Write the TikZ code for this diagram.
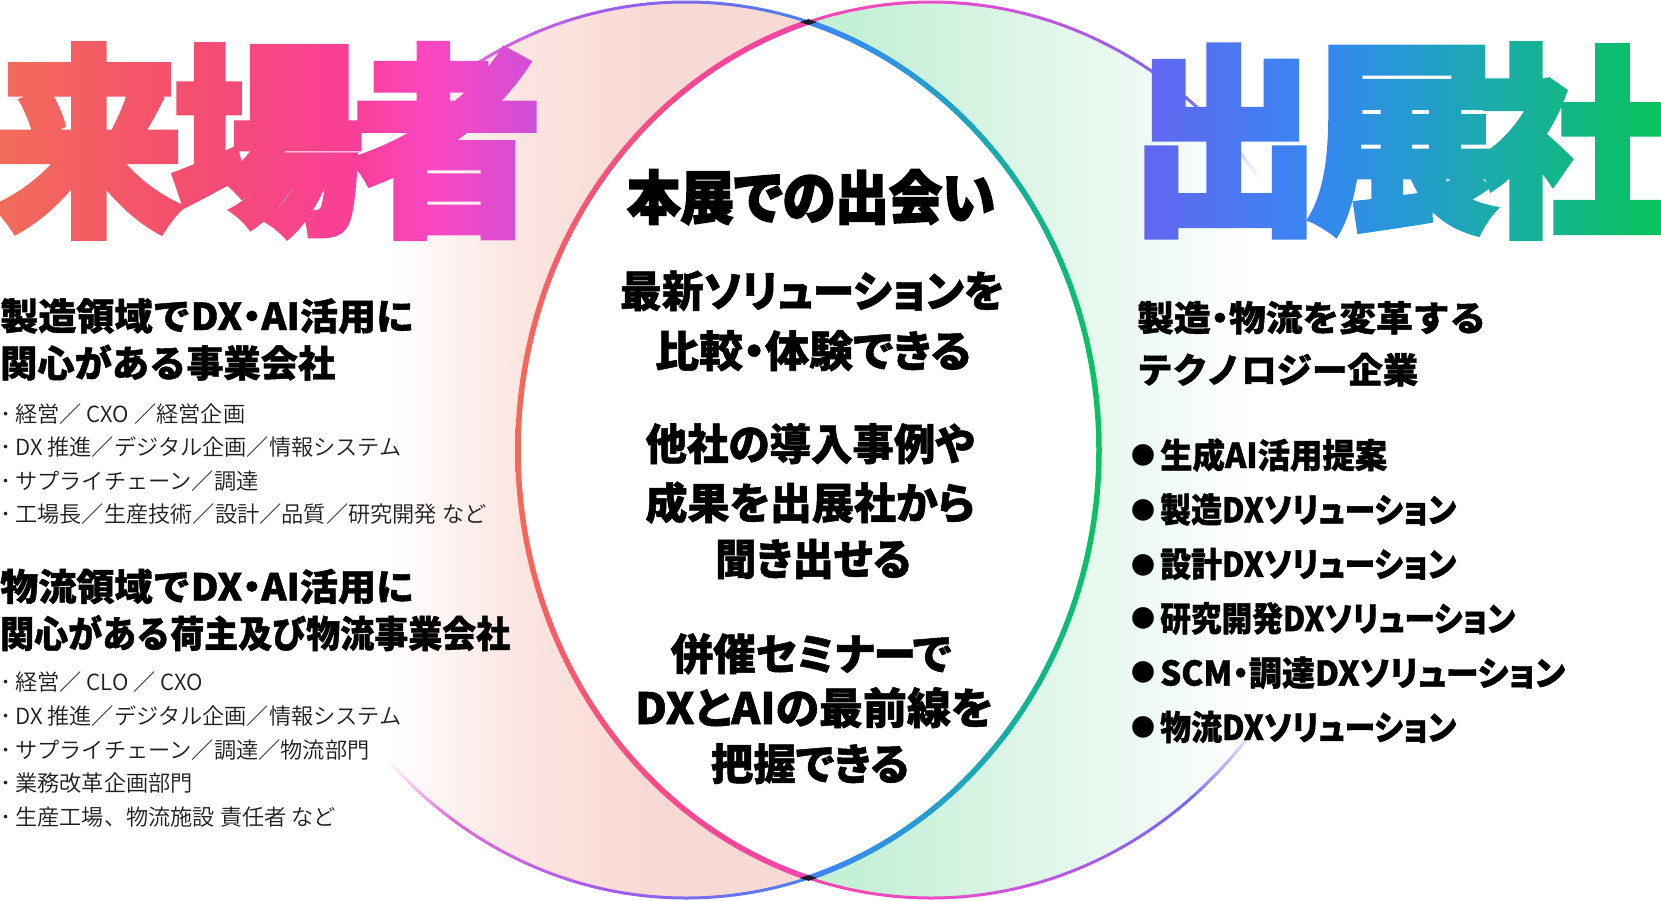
\documentclass[tikz,border=0pt]{standalone}
\usepackage{fontspec}
\usepackage{graphicx}
\usetikzlibrary{fadings}
\newfontfamily\jp{Noto Sans CJK JP}[BoldFeatures={FakeBold=1.2}]
\newfontfamily\jpp{Noto Sans CJK JP}[RawFeature=+palt,BoldFeatures={FakeBold=1.2}]
\newfontfamily\jph{Noto Sans CJK JP}[RawFeature=+palt,BoldFeatures={FakeBold=3}]
\IfFontExistsTF{Noto Sans CJK JP DemiLight}{\newfontfamily\jpl{Noto Sans CJK JP DemiLight}}{\newfontfamily\jpl{Noto Sans CJK JP}}
\newcommand\fitw[2]{\resizebox{#1}{\height}{#2}}
\newcommand\pdot{{\jpp\bfseries ・}}
\newcommand\bdot{･\kern4pt}

\definecolor{lpkA}{HTML}{FCE5E1}
\definecolor{lpkB}{HTML}{F9D9D3}
\definecolor{rgnA}{HTML}{C2EFD4}
\definecolor{rgnB}{HTML}{C4F0D6}
\definecolor{rgnC}{HTML}{DAF5E5}
\definecolor{rgnD}{HTML}{EFFAF4}
\definecolor{lsA}{HTML}{E46AD8}
\definecolor{lsB}{HTML}{A65BEA}
\definecolor{lsC}{HTML}{5A78F2}
\definecolor{lsD}{HTML}{3C88F2}
\definecolor{lsE}{HTML}{20A2C6}
\definecolor{lsF}{HTML}{13B684}
\definecolor{lsG}{HTML}{0DC15E}
\definecolor{rsA}{HTML}{F36A58}
\definecolor{rsB}{HTML}{F4537A}
\definecolor{rsC}{HTML}{F54693}
\definecolor{rsD}{HTML}{F346AC}
\definecolor{rsE}{HTML}{EE4CC8}
\definecolor{rsF}{HTML}{B957E3}
\definecolor{rsG}{HTML}{7868F0}
\definecolor{raA}{HTML}{F26C5A}
\definecolor{raB}{HTML}{F44F6E}
\definecolor{raC}{HTML}{F93F98}
\definecolor{raD}{HTML}{FD47C0}
\definecolor{raE}{HTML}{CE4FD9}
\definecolor{shA}{HTML}{6465F1}
\definecolor{shB}{HTML}{3787F2}
\definecolor{shC}{HTML}{2798D6}
\definecolor{shD}{HTML}{1CAAAE}
\definecolor{shE}{HTML}{07C45A}
\definecolor{darkx}{HTML}{1A1A2A}
\definecolor{txt}{HTML}{000000}
\definecolor{txtl}{HTML}{1E1E1E}

\pgfdeclarehorizontalshading{lfill}{100bp}{color(0bp)=(white); color(32.08bp)=(white); color(39.95bp)=(lpkA); color(47.82bp)=(lpkB); color(100bp)=(lpkB)}
\pgfdeclarehorizontalshading{rfill}{100bp}{color(0bp)=(rgnA); color(25bp)=(rgnA); color(45.70bp)=(rgnB); color(54.18bp)=(rgnC); color(63.26bp)=(rgnD); color(70.04bp)=(white); color(100bp)=(white)}
\pgfdeclarehorizontalshading{lstroke}{100bp}{color(0bp)=(white); color(31.90bp)=(white); color(35.81bp)=(lsA); color(44.83bp)=(lsB); color(54.45bp)=(lsC); color(58.66bp)=(lsD); color(65.87bp)=(lsE); color(71.89bp)=(lsF); color(75bp)=(lsG); color(100bp)=(lsG)}
\pgfdeclarehorizontalshading{rstroke}{100bp}{color(0bp)=(rsA); color(25bp)=(rsA); color(30.10bp)=(rsB); color(36.11bp)=(rsC); color(42.60bp)=(rsD); color(50bp)=(rsE); color(57.76bp)=(rsF); color(65.57bp)=(rsG); color(69.90bp)=(white); color(100bp)=(white)}
\pgfdeclarehorizontalshading{raish}{100bp}{color(0bp)=(raA); color(26.12bp)=(raA); color(42.19bp)=(raB); color(57.81bp)=(raC); color(64.51bp)=(raD); color(73.88bp)=(raE); color(100bp)=(raE)}
\pgfdeclarehorizontalshading{shutsu}{100bp}{color(0bp)=(shA); color(26.88bp)=(shA); color(42.41bp)=(shB); color(49.91bp)=(shC); color(57.32bp)=(shD); color(73.13bp)=(shE); color(100bp)=(shE)}

\tikzset{
  bigch/.style={text=transparent!0, font=\jph\bfseries\fontsize{204}{204}\selectfont, inner sep=0pt, xscale=0.94},
  lhead/.style={anchor=base west, inner sep=0pt, text=txt, font=\jp\bfseries\fontsize{37}{37}\selectfont},
  lbul/.style={anchor=base west, inner sep=0pt, text=txtl, font=\jpl\fontsize{22.2}{22}\selectfont},
  ctitle/.style={anchor=base, inner sep=0pt, text=txt, font=\jph\bfseries\fontsize{58}{58}\selectfont},
  cbody/.style={anchor=base, inner sep=0pt, text=txt, font=\jpp\bfseries\fontsize{43}{43}\selectfont},
  rhead/.style={anchor=base west, inner sep=0pt, text=txt, font=\jp\bfseries\fontsize{35}{35}\selectfont},
  ritem/.style={anchor=base west, inner sep=0pt, text=txt, font=\jpp\bfseries\fontsize{34}{34}\selectfont},
  rdot/.style={anchor=center, inner sep=0pt, text=txt, font=\jp\fontsize{24}{24}\selectfont},
}

\begin{tikzfadingfrompicture}[name=fraijo]
  \path (-280pt,-110pt) rectangle (280pt,110pt);
  \node[bigch] (fa) at (-179pt,0pt) {来};
  \node[bigch] (fb) at (0pt,0pt) {場};
  \node[bigch] (fc) at (179.5pt,0pt) {者};
\end{tikzfadingfrompicture}
\begin{tikzfadingfrompicture}[name=fshutsu]
  \path (-280pt,-110pt) rectangle (280pt,110pt);
  \node[bigch] (fd) at (-176pt,0pt) {出};
  \node[bigch] (fe) at (2.5pt,0pt) {展};
  \node[bigch] (ff) at (172pt,0pt) {社};
\end{tikzfadingfrompicture}

\begin{document}
\begin{tikzpicture}[x=1pt,y=-1pt]
\useasboundingbox (0,0) rectangle (1661,900);
\clip (0,0) rectangle (1661,900);
\fill[white] (0,0) rectangle (1661,900);

% fills
\shade[shading=lfill] (686,450) ellipse [x radius=413pt, y radius=448pt];
\shade[shading=rfill] (931,450) ellipse [x radius=413pt, y radius=448pt];
\begin{scope}
  \clip (686,450) ellipse [x radius=413pt, y radius=448pt];
  \fill[white] (931,450) ellipse [x radius=413pt, y radius=448pt];
\end{scope}

% left ellipse outline
\shade[shading=lstroke, even odd rule] (686,450) ellipse [x radius=414.5pt, y radius=449.5pt] (686,450) ellipse [x radius=411.5pt, y radius=446.5pt];
\begin{scope}
  \clip (931,450) ellipse [x radius=413pt, y radius=448pt];
  \shade[shading=lstroke, even odd rule] (686,450) ellipse [x radius=415.75pt, y radius=450.75pt] (686,450) ellipse [x radius=410.25pt, y radius=445.25pt];
\end{scope}
% right ellipse outline
\shade[shading=rstroke, even odd rule] (931,450) ellipse [x radius=414.5pt, y radius=449.5pt] (931,450) ellipse [x radius=411.5pt, y radius=446.5pt];
\begin{scope}
  \clip (686,450) ellipse [x radius=413pt, y radius=448pt];
  \shade[shading=rstroke, even odd rule] (931,450) ellipse [x radius=415.75pt, y radius=450.75pt] (931,450) ellipse [x radius=410.25pt, y radius=445.25pt];
\end{scope}
% crossing points
\begin{scope}[even odd rule]
  \clip (686,450) ellipse [x radius=415.75pt, y radius=450.75pt] (686,450) ellipse [x radius=410.25pt, y radius=445.25pt];
  \fill[darkx] (931,450) ellipse [x radius=415.75pt, y radius=450.75pt] (931,450) ellipse [x radius=410.25pt, y radius=445.25pt];
\end{scope}

% big gradient headings
\begin{scope}[transform canvas={shift={(267.5pt,-141pt)}}]
  \shade[shading=raish, path fading=fraijo, fit fading=false] (-280,-110) rectangle (280,110);
\end{scope}
\begin{scope}[transform canvas={shift={(1401pt,-141pt)}}]
  \shade[shading=shutsu, path fading=fshutsu, fit fading=false] (-280,-110) rectangle (280,110);
\end{scope}

% left column
\node[lhead] (lh1a) at (0,330) {\fitw{414pt}{製造領域でDX\pdot AI活用に}};
\node[lhead] (lh1b) at (0,377) {\fitw{335pt}{関心がある事業会社}};
\node[lbul] (lb1) at (0,422) {\bdot 経営／ CXO ／経営企画};
\node[lbul] (lb2) at (0,455.5) {\bdot DX 推進／デジタル企画／情報システム};
\node[lbul] (lb3) at (0,489) {\bdot サプライチェーン／調達};
\node[lbul] (lb4) at (0,522) {\bdot 工場長／生産技術／設計／品質／研究開発 など};
\node[lhead] (lh2a) at (0,600.5) {\fitw{414pt}{物流領域でDX\pdot AI活用に}};
\node[lhead] (lh2b) at (0,647.5) {\fitw{510pt}{関心がある荷主及び物流事業会社}};
\node[lbul] (lb5) at (0,690) {\bdot 経営／ CLO ／ CXO};
\node[lbul] (lb6) at (0,724) {\bdot DX 推進／デジタル企画／情報システム};
\node[lbul] (lb7) at (0,758) {\bdot サプライチェーン／調達／物流部門};
\node[lbul] (lb8) at (0,791) {\bdot 業務改革企画部門};
\node[lbul] (lb9) at (0,825) {\bdot 生産工場、物流施設 責任者 など};

% center column
\node[ctitle] (ct) at (811,219) {\fitw{368pt}{本展での出会い}};
\node[cbody] (c1) at (812,307) {\fitw{384pt}{最新ソリューションを}};
\node[cbody] (c2) at (813,367) {\fitw{316pt}{比較・体験できる}};
\node[cbody] (c3) at (810,460) {\fitw{329pt}{他社の導入事例や}};
\node[cbody] (c4) at (810,519) {\fitw{329pt}{成果を出展社から}};
\node[cbody] (c5) at (813,575) {\fitw{196pt}{聞き出せる}};
\node[cbody] (c6) at (811,670) {\fitw{281pt}{併催セミナーで}};
\node[cbody] (c7) at (814,724) {\fitw{358pt}{DXとAIの最前線を}};
\node[cbody] (c8) at (810,780) {\fitw{198pt}{把握できる}};

% right column
\node[rhead] (rh1) at (1137,331) {\fitw{349pt}{製造\pdot 物流を変革する}};
\node[rhead] (rh2) at (1137,383) {\fitw{281pt}{テクノロジー企業}};
\node[rdot] (rb1) at (1143,455) {●};
\node[rdot] (rb2) at (1143,510) {●};
\node[rdot] (rb3) at (1143,565) {●};
\node[rdot] (rb4) at (1143,618) {●};
\node[rdot] (rb5) at (1143,672) {●};
\node[rdot] (rb6) at (1143,727) {●};
\node[ritem] (ri1) at (1160,468) {\fitw{227pt}{生成AI活用提案}};
\node[ritem] (ri2) at (1160,522.4) {\fitw{296pt}{製造DXソリューション}};
\node[ritem] (ri3) at (1160,576.8) {\fitw{296pt}{設計DXソリューション}};
\node[ritem] (ri4) at (1160,631.2) {\fitw{355pt}{研究開発DXソリューション}};
\node[ritem] (ri5) at (1160,685.6) {\fitw{405pt}{SCM・調達DXソリューション}};
\node[ritem] (ri6) at (1160,740) {\fitw{296pt}{物流DXソリューション}};
\end{tikzpicture}
\end{document}
